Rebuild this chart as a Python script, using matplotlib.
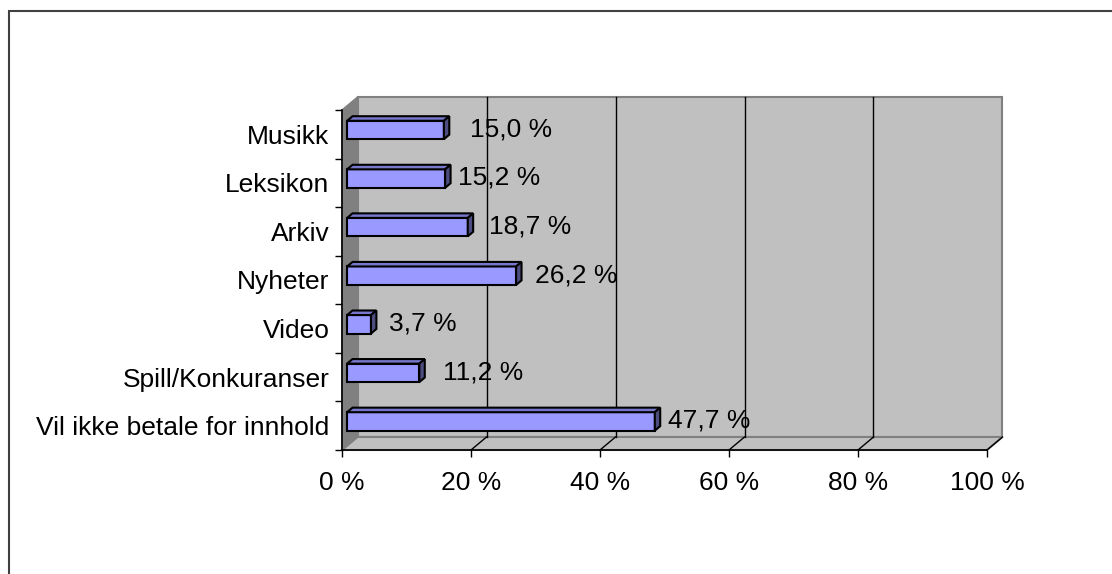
import numpy as np
import matplotlib
matplotlib.use("Agg")
import matplotlib.pyplot as plt
from matplotlib.patches import Polygon, Rectangle

# data (bottom to top, as drawn)
categories = ["Vil ikke betale for innhold", "Spill/Konkuranser", "Video",
              "Nyheter", "Arkiv", "Leksikon", "Musikk"]
values = [47.7, 11.2, 3.7, 26.2, 18.7, 15.2, 15.0]
value_labels = ["47,7 %", "11,2 %", "3,7 %", "26,2 %", "18,7 %", "15,2 %", "15,0 %"]
xticks = [0, 20, 40, 60, 80, 100]
xtick_labels = ["0 %", "20 %", "40 %", "60 %", "80 %", "100 %"]

# label gaps in pixels after bar end (Excel places them a bit unevenly)
label_gap = [13, 24, 18, 19, 21, 13, 26]

W, H = 1112, 574
fig = plt.figure(figsize=(W / 100, H / 100), dpi=100)
plt.rcParams['font.family'] = ['Liberation Sans', 'DejaVu Sans']
FS = 19

# front plane of the plot area, in pixels
x0_px, x1_px = 342, 987
ytop_px, ybot_px = 110, 450
ax = fig.add_axes([x0_px / W, (H - ybot_px) / H, (x1_px - x0_px) / W, (ybot_px - ytop_px) / H])
ax.set_xlim(0, 100)
ax.set_ylim(-0.5, len(categories) - 0.5)
ax.patch.set_visible(False)

ppx = (x1_px - x0_px) / 100.0           # pixels per percent
ppy = (ybot_px - ytop_px) / len(categories)  # pixels per category
dx = 15.5 / ppx                          # depth offset in data units
dy = 13.0 / ppy

ylo, yhi = -0.5, len(categories) - 0.5

# walls
back = Polygon([(dx, ylo + dy), (100 + dx, ylo + dy), (100 + dx, yhi + dy), (dx, yhi + dy)],
               closed=True, facecolor="#C0C0C0", edgecolor="#808080", lw=1.5, zorder=0.5, clip_on=False)
left = Polygon([(0, ylo), (dx, ylo + dy), (dx, yhi + dy), (0, yhi)],
               closed=True, facecolor="#808080", edgecolor="#808080", lw=1, zorder=0.5, clip_on=False)
floor = Polygon([(0, ylo), (100, ylo), (100 + dx, ylo + dy), (dx, ylo + dy)],
                closed=True, facecolor="#C0C0C0", edgecolor="#808080", lw=1.5, zorder=0.6, clip_on=False)
for p in (back, left, floor):
    ax.add_patch(p)

# gridlines on the back wall and floor
for t in xticks[1:-1]:
    ax.plot([t + dx, t + dx], [ylo + dy, yhi + dy], color="black", lw=1, zorder=0.7, clip_on=False)
for t in xticks[1:]:
    ax.plot([t, t + dx], [ylo, ylo + dy], color="black", lw=1, zorder=0.7, clip_on=False)

# bars (front face + top + side)
f0, f1 = 0.33, 0.68
h = 0.38
ypos = np.arange(len(categories))
ax.barh(ypos + f0 * dy, values, left=f0 * dx, height=h, color="#9999FF",
        edgecolor="black", lw=1.5, zorder=2)
d_x = (f1 - f0) * dx
d_y = (f1 - f0) * dy
for i, v in enumerate(values):
    xa = f0 * dx
    xb = v + f0 * dx
    yb = i + f0 * dy - h / 2
    yt = i + f0 * dy + h / 2
    top = Polygon([(xa, yt), (xb, yt), (xb + d_x, yt + d_y), (xa + d_x, yt + d_y)],
                  closed=True, facecolor="#7777CC", edgecolor="black", lw=1.5, zorder=2, clip_on=False)
    side = Polygon([(xb, yb), (xb, yt), (xb + d_x, yt + d_y), (xb + d_x, yb + d_y)],
                   closed=True, facecolor="#4D4D80", edgecolor="black", lw=1.5, zorder=2, clip_on=False)
    ax.add_patch(top)
    ax.add_patch(side)
    ax.annotate(value_labels[i], (xb, i + f0 * dy), xytext=(label_gap[i] * 0.72, 0.5),
                textcoords="offset points", ha="left", va="center", fontsize=FS, zorder=3,
                annotation_clip=False)

# axes
for s in ("top", "right"):
    ax.spines[s].set_visible(False)
for s in ("left", "bottom"):
    ax.spines[s].set_color("black")
    ax.spines[s].set_linewidth(1.2)
    ax.spines[s].set_zorder(2.5)

ax.set_xticks(xticks)
ax.set_xticklabels(xtick_labels, fontsize=FS)
ax.tick_params(axis="x", direction="out", length=5, width=1, pad=10)

ax.set_yticks(np.arange(len(categories) + 1) - 0.5)
ax.set_yticklabels([])
ax.set_yticks(ypos, minor=True)
ax.set_yticklabels(categories, minor=True, fontsize=FS)
ax.tick_params(axis="y", which="major", direction="out", length=5, width=1)
ax.tick_params(axis="y", which="minor", length=0, pad=9)

# chart border (extends past right/bottom edge)
fig.patches.append(Rectangle((9 / W, -0.05), 1.1, 1 - 11 / H + 0.05, transform=fig.transFigure,
                             fill=False, edgecolor="#404040", lw=1.5, zorder=0))

fig.savefig("out.png", dpi=100)
